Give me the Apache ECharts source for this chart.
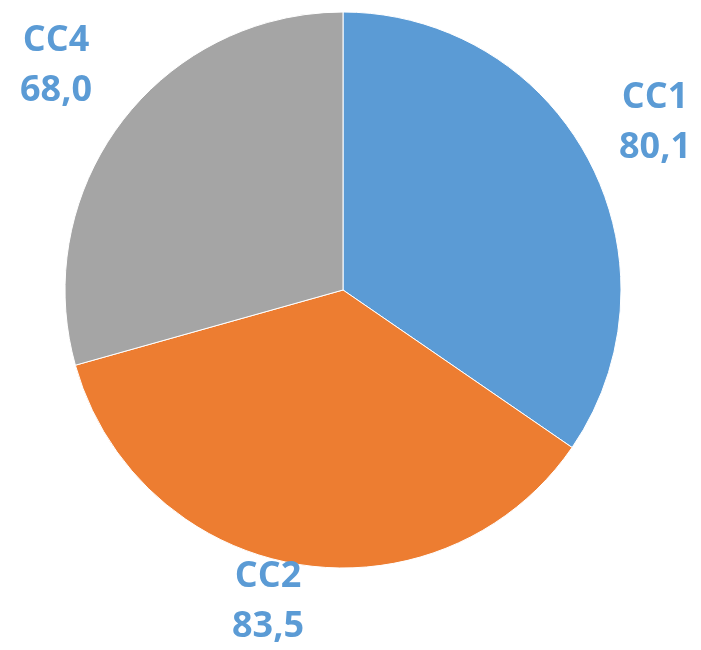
<!DOCTYPE html>
<html>
<head>
<meta charset="utf-8">
<script src="https://cdn.jsdelivr.net/npm/echarts@6/dist/echarts.min.js"></script>
<style>
  html, body { margin: 0; padding: 0; background: #fff; }
  #chart { width: 701px; height: 650px; }
</style>
</head>
<body>
<div id="chart"></div>
<script>
const categories = ['CC1', 'CC2', 'CC4']
const values = [80.1, 83.5, 68.0]
const colors = ['#5B9BD5', '#ED7D31', '#A5A5A5']

// where Excel put each label (centre of the text block)
const labelSpots = [[655, 123], [268, 602], [56, 66]]

let myCharts = echarts.init(document.getElementById('chart'))
myCharts.setOption({
  animation: false,
  series: [
    {
      type: 'pie',
      center: [343, 290],
      radius: [0, 278],
      startAngle: 90,
      clockwise: true,
      data: categories.map((name, i) => ({
        name: name,
        value: values[i],
        itemStyle: { color: colors[i] },
      })),
      itemStyle: {
        borderColor: '#fff',
        borderWidth: 1,
      },
      label: {
        show: true,
        position: 'outside',
        formatter: (p) => p.name + '\n' + p.value.toFixed(1).replace('.', ','),
        color: '#5B9BD5',
        fontFamily: 'Open Sans',
        fontWeight: 'bold',
        fontSize: 36,
        lineHeight: 50,
        align: 'center',
        overflow: 'none',
        width: 120,
      },
      labelLine: { show: false },
      labelLayout: (params) => ({
        x: labelSpots[params.dataIndex][0],
        y: labelSpots[params.dataIndex][1],
        align: 'center',
        verticalAlign: 'middle',
      }),
    },
  ],
})
</script>
</body>
</html>
